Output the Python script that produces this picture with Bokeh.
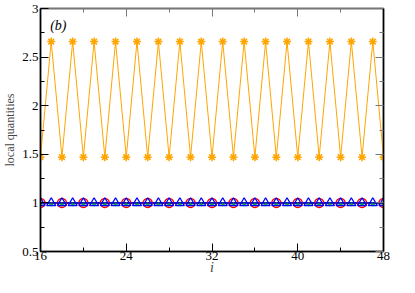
from bokeh.plotting import figure
from bokeh.models import FixedTicker, LinearAxis, Range1d, CustomJSTickFormatter, Label
from bokeh.embed import file_html
from bokeh.resources import INLINE

# data
i_vals = list(range(16, 49))
orange_vals = [1.47 if k % 2 == 0 else 2.66 for k in i_vals]
i_even = [k for k in i_vals if k % 2 == 0]
red_vals = [1.0 for k in i_even]
green_vals = [0.985 for k in i_vals]
blue_vals = [1.0 for k in i_vals]
black_vals = [1.0 for k in i_vals]

x_major = [16, 24, 32, 40, 48]
x_minor = [20, 28, 36, 44]
y_major = [0.5, 1.0, 1.5, 2.0, 2.5, 3.0]
y_minor = [0.75, 1.25, 1.75, 2.25, 2.75]

FONT = "Liberation Serif"

p = figure(width=399, height=277, output_backend="svg", toolbar_location=None,
           x_range=Range1d(16, 48), y_range=Range1d(0.5, 3.0),
           min_border_top=8, min_border_right=16, min_border_left=4, min_border_bottom=0)
p.grid.visible = False
p.outline_line_color = "#333333"
p.outline_line_width = 1.5
p.background_fill_color = "white"
p.border_fill_color = "white"

fmt = CustomJSTickFormatter(code="return tick.toString();")
blank = CustomJSTickFormatter(code="return '';")

def style_axis(ax, ticks, minors, show_labels=True):
    ax.ticker = FixedTicker(ticks=ticks, minor_ticks=minors)
    ax.major_tick_in = 8
    ax.major_tick_out = 0
    ax.minor_tick_in = 4
    ax.minor_tick_out = 0
    ax.axis_line_color = "black"
    ax.axis_line_width = 1.5
    ax.major_tick_line_color = "black"
    ax.minor_tick_line_color = "black"
    ax.major_label_text_font = FONT
    ax.major_label_text_font_size = "13px"
    ax.major_label_text_color = "black"
    ax.major_label_standoff = 0 if show_labels else 0
    ax.formatter = fmt if show_labels else blank

p.xaxis.axis_label = "i"
p.xaxis.axis_label_text_font = FONT
p.xaxis.axis_label_text_font_style = "italic"
p.xaxis.axis_label_text_font_size = "14px"
p.xaxis.axis_label_standoff = -3
p.yaxis.axis_label = "local quantities"
p.yaxis.axis_label_text_font = FONT
p.yaxis.axis_label_text_font_style = "normal"
p.yaxis.axis_label_text_font_size = "12px"
p.yaxis.axis_label_standoff = 2
style_axis(p.xaxis[0], x_major, x_minor)
style_axis(p.yaxis[0], y_major, y_minor)
p.yaxis[0].major_label_standoff = 2

top = LinearAxis()
right = LinearAxis()
style_axis(top, x_major, x_minor, show_labels=False)
style_axis(right, y_major, y_minor, show_labels=False)
top.axis_line_color = "#777777"
top.major_tick_line_color = "#777777"
top.minor_tick_line_color = "#777777"
right.major_tick_line_color = "#777777"
right.minor_tick_line_color = "#777777"
p.add_layout(top, "above")
p.add_layout(right, "right")

orange = "#FFA500"
p.line(i_vals, orange_vals, line_color=orange, line_width=1)
p.scatter(i_vals, orange_vals, marker="asterisk", size=8, line_color=orange, line_width=1.5)

p.line(i_vals, black_vals, line_color="black", line_width=1.5)
p.scatter(i_even, red_vals, marker="circle", size=9, line_color="red", fill_color=None, line_width=1.5)
p.scatter(i_vals, green_vals, marker="cross", size=4, line_color="#00DD00", line_width=1)
p.line(i_vals, blue_vals, line_color="blue", line_width=1)
p.scatter(i_vals, blue_vals, marker="triangle", size=9, line_color="blue", fill_color=None, line_width=1.3)

p.add_layout(Label(x=16.9, y=2.83, text="(b)", text_font=FONT, text_font_style="italic",
                   text_font_size="14px", text_baseline="middle", text_color="black"))

open("out.html", "w").write(file_html(p, INLINE))
